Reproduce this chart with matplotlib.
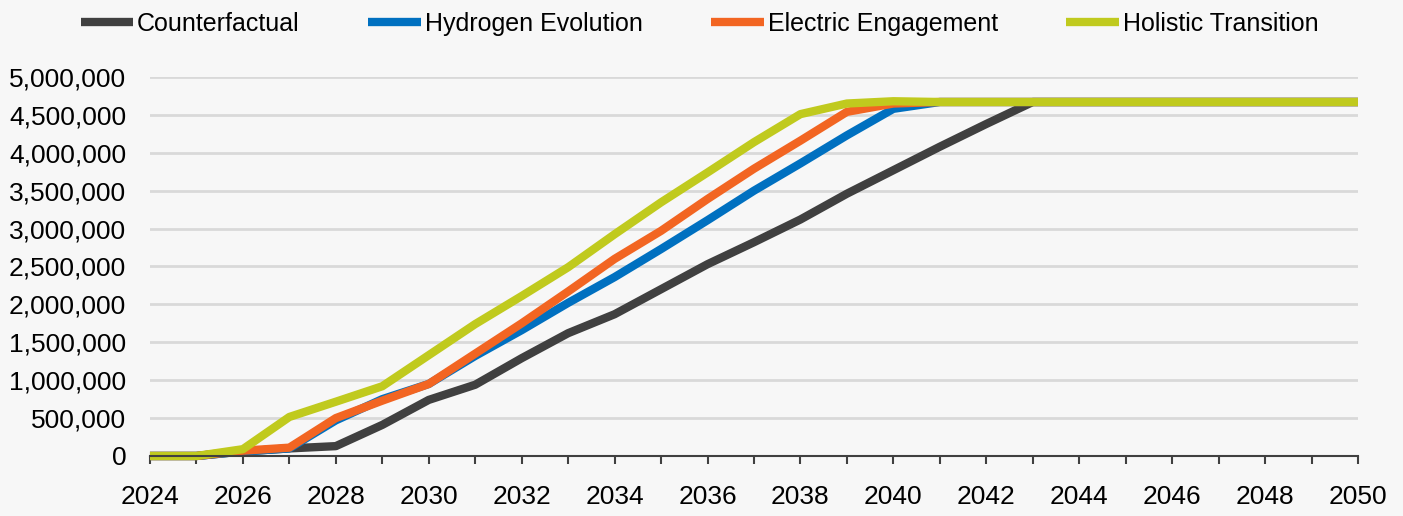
import numpy as np
import matplotlib.pyplot as plt
from matplotlib.ticker import FuncFormatter, MultipleLocator

plt.rcParams['font.family'] = ['Liberation Sans', 'DejaVu Sans']

years = list(range(2024, 2051))
plateau = 4670000

counterfactual = [0, 0, 60000, 100000, 130000, 410000, 740000, 940000, 1290000, 1620000,
                  1870000, 2200000, 2530000, 2820000, 3120000, 3460000, 3770000, 4080000,
                  4380000] + [plateau] * 8
hydrogen = [0, 0, 60000, 100000, 470000, 750000, 950000, 1320000, 1660000, 2020000,
            2360000, 2730000, 3110000, 3500000, 3860000, 4230000, 4580000] + [plateau] * 10
electric = [0, 0, 70000, 110000, 500000, 730000, 950000, 1350000, 1750000, 2170000,
            2600000, 2970000, 3390000, 3790000, 4160000, 4540000, 4650000] + [plateau] * 10
holistic = [0, 0, 90000, 515000, 716000, 920000, 1330000, 1740000, 2110000, 2490000,
            2925000, 3346000, 3740000, 4140000, 4510000, 4650000, 4680000] + [plateau] * 10

series = [
    ("Counterfactual", counterfactual, "#404040"),
    ("Hydrogen Evolution", hydrogen, "#0070c0"),
    ("Electric Engagement", electric, "#f26522"),
    ("Holistic Transition", holistic, "#c0ca1e"),
]

bg = "#f7f7f7"
fig = plt.figure(figsize=(14.03, 5.16), dpi=100, facecolor=bg)
ax = fig.add_axes([0.1069, 0.1163, 0.8610, 0.7345])
ax.set_facecolor(bg)

for name, vals, col in series:
    ax.plot(years, vals, color=col, lw=6, label=name, solid_capstyle='butt', clip_on=False)

ax.set_xlim(2024, 2050)
ax.set_ylim(0, 5000000)
ax.yaxis.set_major_locator(MultipleLocator(500000))
ax.yaxis.set_major_formatter(FuncFormatter(lambda v, p: f"{int(v):,}"))
ax.xaxis.set_major_locator(MultipleLocator(2))
ax.xaxis.set_minor_locator(MultipleLocator(1))
ax.grid(axis='y', color='#d9d9d9', lw=2)
ax.set_axisbelow(True)

for s in ['top', 'right', 'left']:
    ax.spines[s].set_visible(False)
ax.spines['bottom'].set_color('#404040')
ax.spines['bottom'].set_linewidth(1.5)
ax.tick_params(axis='y', length=0, labelsize=19, pad=17)
ax.tick_params(axis='x', which='both', direction='out', length=6, width=1.5,
               color='#404040', labelsize=19, pad=15)

ax.legend(loc='center', bbox_to_anchor=(0.455, 1.14), ncol=4, frameon=False,
          fontsize=18, handlelength=2.1, handletextpad=0.15, columnspacing=2.75)

fig.savefig("out.png", dpi=100, facecolor=bg)
